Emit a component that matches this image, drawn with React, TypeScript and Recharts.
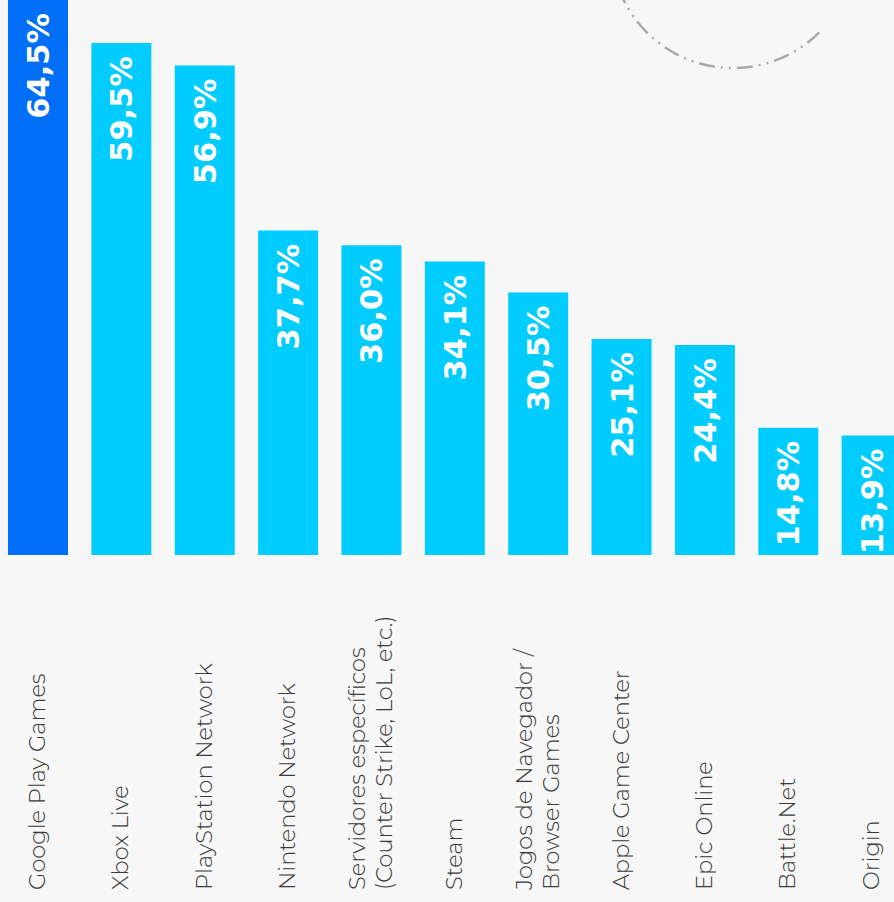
import React from 'react';
import { BarChart, Bar, XAxis, YAxis, Cell, LabelList } from 'recharts';

const categories = [
  'Google Play Games',
  'Xbox Live',
  'PlayStation Network',
  'Nintendo Network',
  'Servidores específicos\n(Counter Strike, LoL, etc.)',
  'Steam',
  'Jogos de Navegador /\nBrowser Games',
  'Apple Game Center',
  'Epic Online',
  'Battle.Net',
  'Origin',
];
const values = [64.5, 59.5, 56.9, 37.7, 36.0, 34.1, 30.5, 25.1, 24.4, 14.8, 13.9];

const HIGHLIGHT = '#006ef7';
const BAR = '#00ccff';
const BG = '#f7f7f7';

const data = categories.map((name, i) => ({ name, value: values[i] }));

const fmt = (v: number) => v.toFixed(1).replace('.', ',') + '%';

function CategoryTick(props: any) {
  const { x, payload } = props;
  const lines = String(payload.value).split('\n');
  return (
    <text
      transform={`translate(${x},890) rotate(-90)`}
      fill="#3a3a3a"
      fontSize={22.5}
      fontWeight={300}
      fontFamily="Montserrat, 'Noto Sans', sans-serif"
    >
      {lines.map((line, i) => (
        <tspan key={i} x={0} y={(i - (lines.length - 1) / 2) * 27} dy="0.33em">
          {line}
        </tspan>
      ))}
    </text>
  );
}

function ValueLabel(props: any) {
  const { x, y, width, value } = props;
  const cx = x + width / 2;
  const top = Math.max(y, 0) + 13;
  return (
    <text
      transform={`translate(${cx},${top}) rotate(-90)`}
      textAnchor="end"
      dy="0.36em"
      fill="#ffffff"
      fontSize={30.5}
      fontWeight={700}
      fontFamily="'DejaVu Sans', sans-serif"
    >
      {fmt(value)}
    </text>
  );
}

export default function App() {
  return (
    <div
      style={{
        position: 'fixed',
        left: 0,
        top: 0,
        width: 894,
        height: 902,
        background: BG,
        overflow: 'hidden',
      }}
    >
      <svg width={894} height={902} style={{ position: 'absolute', left: 0, top: 0 }}>
        {/* decorative dash-dot arc, top right */}
        <path
          d="M 819.3 32.3 A 122 122 0 0 1 619.2 -10"
          fill="none"
          stroke="#aaaaaa"
          strokeWidth={2.5}
          strokeDasharray="16 6 2 6 2 6"
        />
      </svg>
      <div style={{ position: 'absolute', left: -4, top: 0 }}>
        <BarChart
          width={917}
          height={902}
          data={data}
          margin={{ top: 0, right: 0, bottom: 0, left: 0 }}
        >
          <XAxis
            dataKey="name"
            height={347}
            axisLine={false}
            tickLine={false}
            interval={0}
            tick={<CategoryTick />}
          />
          <YAxis hide domain={[0, 64.5]} />
          <Bar dataKey="value" barSize={60} isAnimationActive={false}>
            {data.map((_, i) => (
              <Cell key={i} fill={i === 0 ? HIGHLIGHT : BAR} />
            ))}
            <LabelList dataKey="value" content={<ValueLabel />} />
          </Bar>
        </BarChart>
      </div>
    </div>
  );
}
